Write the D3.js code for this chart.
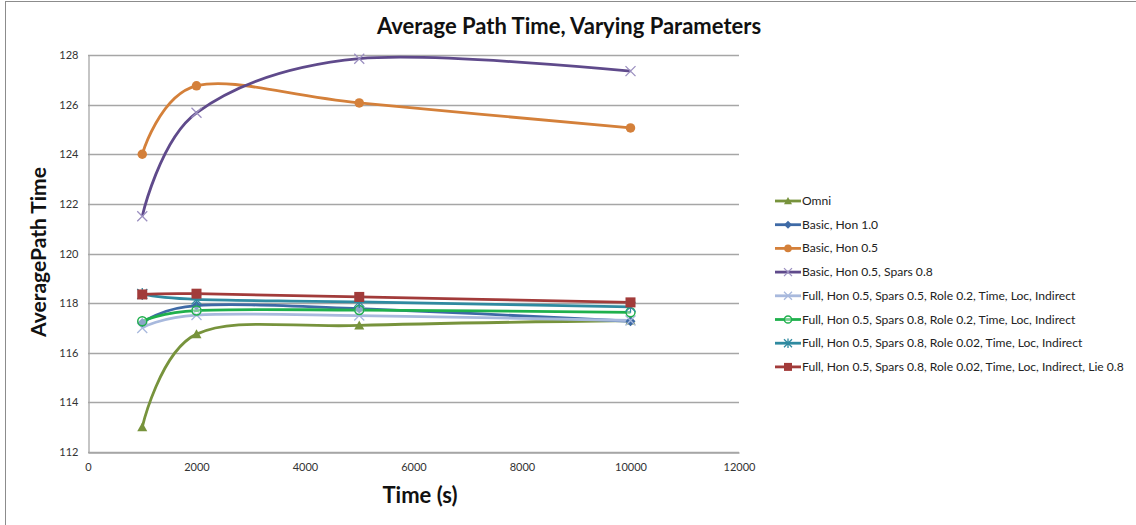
<!DOCTYPE html>
<html>
<head>
<meta charset="utf-8">
<script src="https://cdn.jsdelivr.net/npm/d3@7"></script>
<style>
  html, body { margin: 0; padding: 0; background: #fff; }
  svg { display: block; font-family: Lato, "Open Sans", sans-serif; }
</style>
</head>
<body>
<svg id="chart" width="1136" height="525"></svg>
<script>
// Simulation times (s) at which each configuration was measured
const times = [1000, 2000, 5000, 10000];

// Average path time per configuration
const omni            = [113.0, 116.75, 117.1, 117.3];
const basicHon10      = [117.2, 117.9, 117.78, 117.27];
const basicHon05      = [124.0, 126.76, 126.07, 125.06];
const basicHon05Sp08  = [121.5, 125.67, 127.85, 127.35];
const fullSp05Role02  = [117.0, 117.52, 117.5, 117.3];
const fullSp08Role02  = [117.27, 117.7, 117.72, 117.63];
const fullSp08Role002 = [118.37, 118.15, 118.05, 117.85];
const fullLie08       = [118.35, 118.38, 118.25, 118.03];

const seriesNames = [
  "Omni",
  "Basic, Hon 1.0",
  "Basic, Hon 0.5",
  "Basic, Hon 0.5, Spars 0.8",
  "Full, Hon 0.5, Spars 0.5, Role 0.2, Time, Loc, Indirect",
  "Full, Hon 0.5, Spars 0.8, Role 0.2, Time, Loc, Indirect",
  "Full, Hon 0.5, Spars 0.8, Role 0.02, Time, Loc, Indirect",
  "Full, Hon 0.5, Spars 0.8, Role 0.02, Time, Loc, Indirect, Lie 0.8"
];

const xTicks = [0, 2000, 4000, 6000, 8000, 10000, 12000];
const yTicks = [112, 114, 116, 118, 120, 122, 124, 126, 128];

const styles = [
  { color: "#77933c", marker: "triangle" },
  { color: "#3e6aa6", marker: "diamond" },
  { color: "#d4803a", marker: "circle" },
  { color: "#5f4a8b", marker: "x", markerColor: "#9b8fc0" },
  { color: "#a8b9dd", marker: "x" },
  { color: "#1fb04c", marker: "ocircle" },
  { color: "#2f8aa0", marker: "star" },
  { color: "#a23b3a", marker: "square" }
];

const values = [omni, basicHon10, basicHon05, basicHon05Sp08,
                fullSp05Role02, fullSp08Role02, fullSp08Role002, fullLie08];
const series = seriesNames.map((name, i) => ({
  name, style: styles[i],
  points: times.map((t, j) => ({ t, v: values[i][j] }))
}));

const svg = d3.select("#chart");

// Outer chart frame
svg.append("rect")
  .attr("x", 5.5).attr("y", 1.5)
  .attr("width", 1140).attr("height", 540)
  .attr("fill", "none").attr("stroke", "#8c8c8c").attr("stroke-width", 1);

const plot = { left: 88, right: 739, top: 55, bottom: 452 };
const x = d3.scaleLinear().domain([0, 12000]).range([plot.left, plot.right]);
const y = d3.scaleLinear().domain([112, 128]).range([plot.bottom, plot.top]);

// Horizontal gridlines
svg.append("g")
  .selectAll("line")
  .data(yTicks)
  .join("line")
  .attr("x1", plot.left).attr("x2", plot.right)
  .attr("y1", d => Math.round(y(d)) + 0.5).attr("y2", d => Math.round(y(d)) + 0.5)
  .attr("stroke", "#a6a6a6").attr("stroke-width", 1.3);

// Y axis
const yAxis = svg.append("g")
  .attr("transform", `translate(${plot.left + 0.5},0)`)
  .call(d3.axisLeft(y).tickValues(yTicks).tickSize(0).tickPadding(10));
yAxis.select(".domain").attr("stroke", "#a6a6a6").attr("stroke-width", 1.3);
yAxis.selectAll("text").attr("font-size", 11).attr("fill", "#333")
  .attr("font-family", "Lato, sans-serif");

// X axis
const xAxis = svg.append("g")
  .attr("transform", `translate(0,${Math.round(plot.bottom) + 0.5})`)
  .call(d3.axisBottom(x).tickValues(xTicks).tickSize(0).tickPadding(11).tickFormat(d3.format("d")));
xAxis.select(".domain").attr("stroke", "#a6a6a6").attr("stroke-width", 1.3);
xAxis.selectAll("text").attr("font-size", 11).attr("fill", "#333")
  .attr("font-family", "Lato, sans-serif");

// Titles
svg.append("text")
  .attr("x", 569).attr("y", 34)
  .attr("text-anchor", "middle")
  .attr("font-size", 22).attr("font-weight", "bold").attr("fill", "#111")
  .text("Average Path Time, Varying Parameters");

svg.append("text")
  .attr("x", 420).attr("y", 503)
  .attr("text-anchor", "middle")
  .attr("font-size", 22).attr("font-weight", "bold").attr("fill", "#111")
  .text("Time (s)");

svg.append("text")
  .attr("transform", "translate(46,252) rotate(-90)")
  .attr("text-anchor", "middle")
  .attr("font-size", 21).attr("font-weight", "bold").attr("fill", "#111")
  .text("AveragePath Time");

// Marker drawing
function drawMarker(g, kind, color, size) {
  const s = size;
  switch (kind) {
    case "triangle":
      g.append("path").attr("d", `M0,${-s}L${s},${s * 0.8}L${-s},${s * 0.8}Z`).attr("fill", color);
      break;
    case "diamond":
      g.append("path").attr("d", `M0,${-s}L${s},0L0,${s}L${-s},0Z`).attr("fill", color);
      break;
    case "circle":
      g.append("circle").attr("r", s * 0.95).attr("fill", color);
      break;
    case "ocircle":
      g.append("circle").attr("r", s * 0.9).attr("fill", "#fff").attr("fill-opacity", 0.4)
        .attr("stroke", color).attr("stroke-width", 1.5);
      break;
    case "square":
      g.append("rect").attr("x", -s).attr("y", -s).attr("width", 2 * s).attr("height", 2 * s).attr("fill", color);
      break;
    case "x":
      g.append("path").attr("d", `M${-s},${-s}L${s},${s}M${-s},${s}L${s},${-s}`)
        .attr("stroke", color).attr("stroke-width", 1.3).attr("fill", "none");
      break;
    case "star":
      g.append("path").attr("d", `M${-s},${-s}L${s},${s}M${-s},${s}L${s},${-s}M0,${-s * 1.2}L0,${s * 1.2}`)
        .attr("stroke", color).attr("stroke-width", 1.3).attr("fill", "none");
      break;
  }
}

// Smoothed series lines
const line = d3.line()
  .x(d => x(d.t)).y(d => y(d.v))
  .curve(d3.curveCardinal.tension(0));

const lines = svg.append("g");
series.forEach(s => {
  lines.append("path")
    .datum(s.points)
    .attr("d", line)
    .attr("fill", "none")
    .attr("stroke", s.style.color)
    .attr("stroke-width", 2.8)
    .attr("stroke-linejoin", "round");
});

// Markers on top
const markers = svg.append("g");
series.forEach(s => {
  s.points.forEach(p => {
    const g = markers.append("g").attr("transform", `translate(${x(p.t)},${y(p.v)})`);
    drawMarker(g, s.style.marker, s.style.markerColor || s.style.color, 5);
  });
});

// Legend
const legend = svg.append("g").attr("transform", "translate(775,201)");
series.forEach((s, i) => {
  const row = legend.append("g").attr("transform", `translate(0,${i * 23.7})`);
  row.append("line").attr("x1", 0).attr("x2", 26).attr("y1", 0).attr("y2", 0)
    .attr("stroke", s.style.color).attr("stroke-width", 2.8);
  const g = row.append("g").attr("transform", "translate(13,0)");
  drawMarker(g, s.style.marker, s.style.markerColor || s.style.color, 4);
  row.append("text")
    .attr("x", 27).attr("y", 4)
    .attr("font-size", 12.1).attr("fill", "#222")
    .text(s.name);
});
</script>
</body>
</html>
